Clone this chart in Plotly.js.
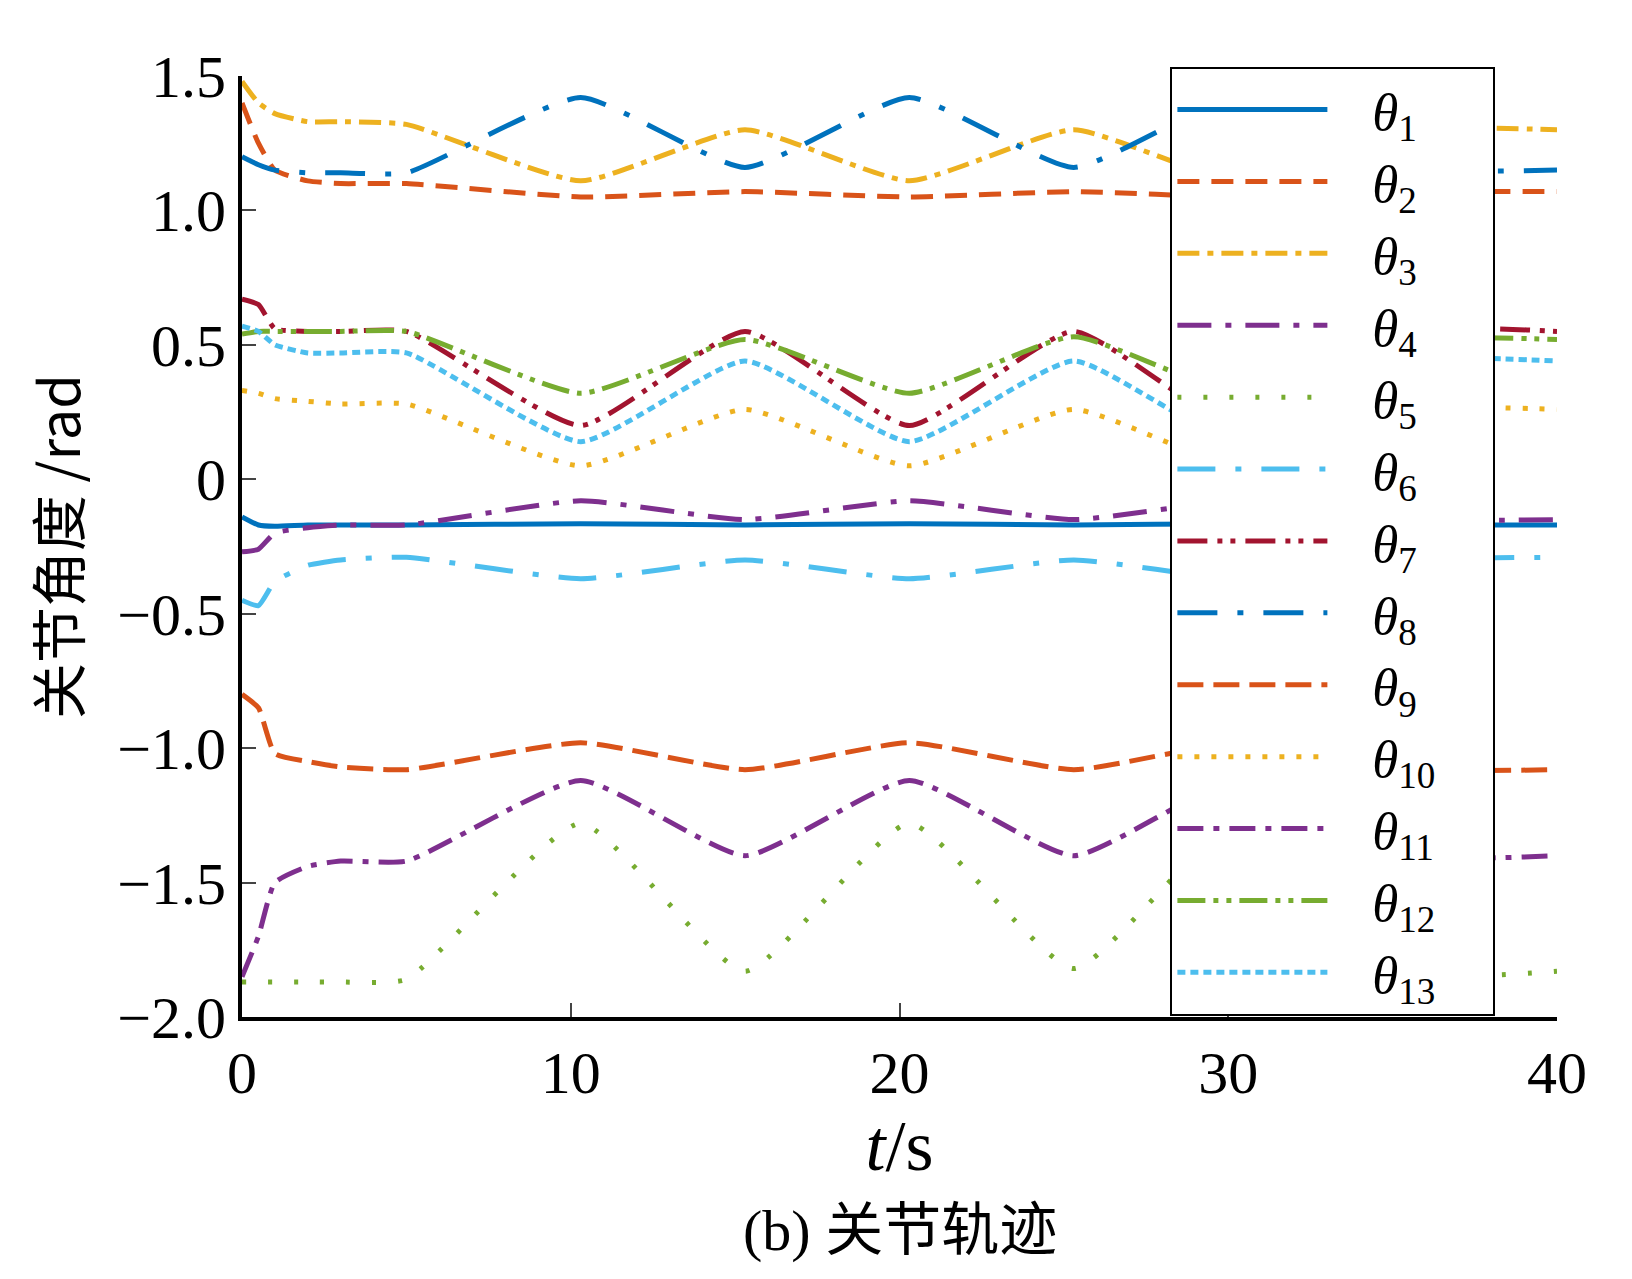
<!DOCTYPE html>
<html><head><meta charset="utf-8">
<script src="https://cdn.plot.ly/plotly-3.0.1.min.js"></script>
<style>body{margin:0;background:#fff}#plot{width:1632px;height:1279px}</style>
</head><body><div id="plot"></div>
<script>
// time knots (s)
var T = [0, 0.5, 1, 2, 3, 5, 10.3, 15.3, 20.3, 25.3, 30.3, 35.3, 40];
var th1  = [-0.14,-0.17,-0.175,-0.17,-0.17,-0.17,-0.165,-0.17,-0.165,-0.17,-0.165,-0.17,-0.17];
var th2  = [1.4,1.25,1.15,1.11,1.1,1.1,1.05,1.07,1.05,1.07,1.05,1.07,1.07];
var th3  = [1.48,1.4,1.36,1.33,1.33,1.32,1.11,1.3,1.11,1.3,1.11,1.3,1.3];
var th4  = [-0.27,-0.26,-0.2,-0.18,-0.17,-0.17,-0.08,-0.15,-0.08,-0.15,-0.08,-0.15,-0.15];
var th5  = [-1.87,-1.87,-1.87,-1.87,-1.87,-1.86,-1.28,-1.83,-1.28,-1.82,-1.28,-1.83,-1.83];
var th6  = [-0.45,-0.47,-0.38,-0.32,-0.3,-0.29,-0.37,-0.3,-0.37,-0.3,-0.37,-0.3,-0.29];
var th7  = [0.67,0.65,0.56,0.55,0.55,0.55,0.2,0.55,0.2,0.55,0.2,0.55,0.55];
var th8  = [1.2,1.17,1.15,1.14,1.14,1.14,1.42,1.16,1.42,1.16,1.42,1.16,1.15];
var th9  = [-0.8,-0.85,-1.02,-1.05,-1.07,-1.08,-0.98,-1.08,-0.98,-1.08,-0.98,-1.08,-1.08];
var th10 = [0.33,0.32,0.3,0.29,0.28,0.28,0.05,0.26,0.05,0.26,0.05,0.26,0.26];
var th11 = [-1.85,-1.7,-1.5,-1.44,-1.42,-1.42,-1.12,-1.4,-1.12,-1.4,-1.12,-1.4,-1.4];
var th12 = [0.54,0.55,0.55,0.55,0.55,0.55,0.32,0.52,0.32,0.53,0.32,0.52,0.52];
var th13 = [0.57,0.55,0.5,0.47,0.47,0.47,0.14,0.44,0.14,0.44,0.14,0.44,0.44];

var yTickVals = [1.5, 1.0, 0.5, 0, -0.5, -1.0, -1.5, -2.0];
var yTickText = ['1.5', '1.0', '0.5', '0', '\u22120.5', '\u22121.0', '\u22121.5', '\u22122.0'];
var xTickVals = [0, 10, 20, 30, 40];

var series = [th1, th2, th3, th4, th5, th6, th7, th8, th9, th10, th11, th12, th13];
var colors = ['#0072BD','#D95319','#EDB120','#7E2F8E','#77AC30','#4DBEEE','#A2142F',
              '#0072BD','#D95319','#EDB120','#7E2F8E','#77AC30','#4DBEEE'];
var dashes = ['solid','22px,12px','22px,8px,6px,8px','34px,14px,6px,14px','4px,22px',
              '38px,20px,6px,20px','30px,10px,5px,8px,5px,10px','40px,20px,6px,20px',
              '26px,10px','5px,12px','26px,10px,6px,10px','28px,8px,5px,8px,5px,8px','8px,5px'];

var traces = series.map(function(s, i) {
  return {x: T, y: s, mode: 'lines',
          name: '&nbsp;&nbsp;&nbsp;<i>θ</i><sub>' + (i + 1) + '</sub>&nbsp;&nbsp;&nbsp;&nbsp;',
          line: {color: colors[i], width: 5, dash: dashes[i], shape: 'spline', smoothing: 0.5}};
});

var font = 'Liberation Serif, Times New Roman, serif';
var layout = {
  width: 1632, height: 1279,
  margin: {l: 242, r: 75, t: 76, b: 262},
  paper_bgcolor: '#fff', plot_bgcolor: '#fff',
  font: {family: font, size: 60, color: '#000'},
  showlegend: true,
  legend: {x: 0.706, y: 1.01, xanchor: 'left', yanchor: 'top', bgcolor: '#fff',
           bordercolor: '#000', borderwidth: 2, font: {size: 53},
           itemwidth: 150, tracegroupgap: 0, maxheight: 1},
  xaxis: {range: [0, 40], tickvals: xTickVals, ticks: 'inside', ticklen: 14, tickwidth: 2,
          showline: true, linewidth: 4, linecolor: '#000', showgrid: false, zeroline: false,
          title: {text: '<i>t</i>/s', standoff: 0}},
  yaxis: {range: [-2.0, 1.5], tickvals: yTickVals, ticktext: yTickText, ticks: 'inside',
          ticklen: 14, tickwidth: 2, showline: true, linewidth: 4, linecolor: '#000',
          showgrid: false, zeroline: false, title: {text: '关节角度 /rad', standoff: 20,
          font: {family: 'Noto Sans CJK SC, ' + font, size: 56}}},
  annotations: [{text: '(b) 关节轨迹', xref: 'paper', yref: 'paper', x: 0.5, y: -0.19,
                 xanchor: 'center', yanchor: 'top', showarrow: false,
                 font: {family: font + ', Noto Sans CJK SC', size: 58}}]
};
Plotly.newPlot('plot', traces, layout, {staticPlot: true});
</script></body></html>
